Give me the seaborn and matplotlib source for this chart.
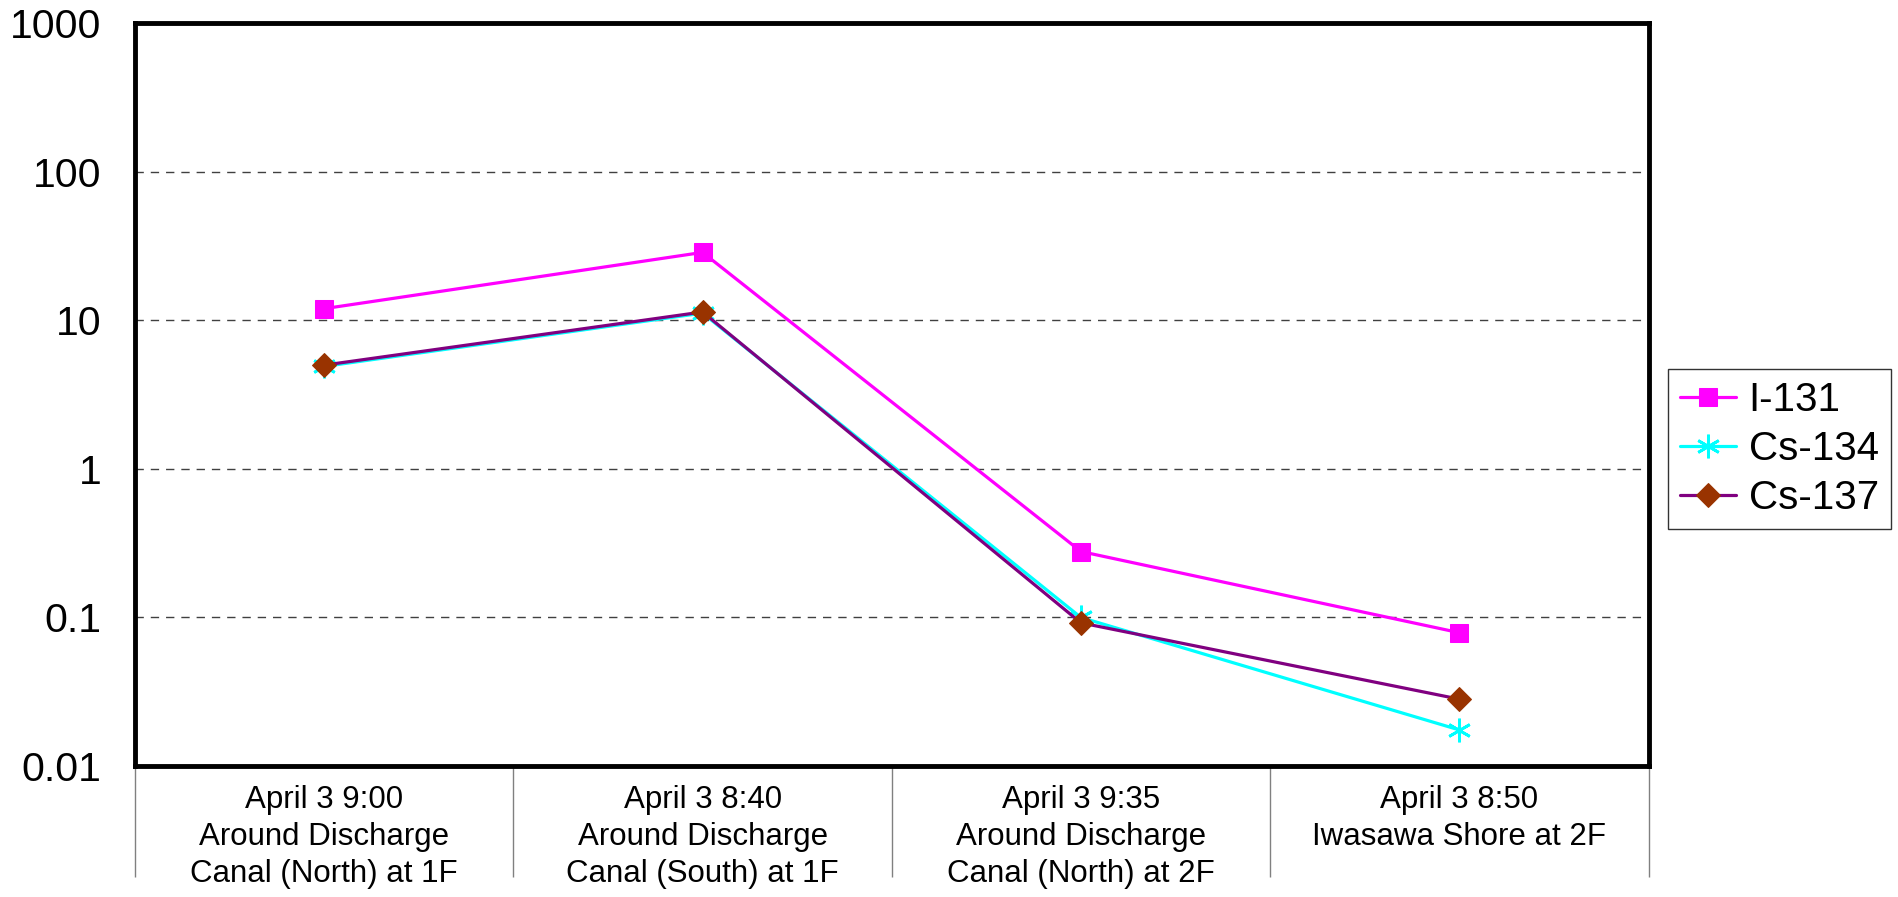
import numpy as np
import pandas as pd
import matplotlib
matplotlib.use('Agg')
import matplotlib.pyplot as plt
import seaborn as sns
from matplotlib.ticker import FixedLocator, NullFormatter, NullLocator

# data (log scale)
locations = [
    'April 3 9:00\nAround Discharge\nCanal (North) at 1F',
    'April 3 8:40\nAround Discharge\nCanal (South) at 1F',
    'April 3 9:35\nAround Discharge\nCanal (North) at 2F',
    'April 3 8:50\nIwasawa Shore at 2F',
]
i131 = [12.0, 28.7, 0.278, 0.079]
cs134 = [4.9, 11.2, 0.100, 0.0175]
cs137 = [5.0, 11.4, 0.092, 0.0282]
y_ticks = [0.01, 0.1, 1, 10, 100, 1000]
y_tick_labels = ['0.01', '0.1', '1', '10', '100', '1000']

sns.set_style('white')
plt.rcParams['font.family'] = ['Liberation Sans', 'DejaVu Sans']
plt.rcParams['text.color'] = 'black'
plt.rcParams['xtick.color'] = 'black'
plt.rcParams['ytick.color'] = 'black'

fig = plt.figure(figsize=(18.99, 8.97), dpi=100)
ax = fig.add_axes([0.0711, 0.146, 0.797, 0.828])

pos = np.arange(len(locations))
series = [
    ('I-131', i131, dict(color='#FF00FF', marker='s', markersize=13,
                         markerfacecolor='#FF00FF', markeredgecolor='#FF00FF')),
    ('Cs-134', cs134, dict(color='#00FFFF', marker=(6, 2, 0), markersize=17,
                           markeredgecolor='#00FFFF', markeredgewidth=2)),
    ('Cs-137', cs137, dict(color='#800080', marker='D', markersize=12.5,
                           markerfacecolor='#993300', markeredgecolor='#993300')),
]
for name, vals, style in series:
    df = pd.DataFrame({'pos': pos, 'value': vals})
    sns.lineplot(data=df, x='pos', y='value', ax=ax, label=name,
                 linewidth=2.3, **style)

ax.set_yscale('log')
ax.set_ylim(0.01, 1000)
ax.set_xlim(-0.5, len(locations) - 0.5)

ax.yaxis.set_major_locator(FixedLocator(y_ticks))
ax.set_yticklabels(y_tick_labels)
ax.yaxis.set_minor_locator(NullLocator())
ax.tick_params(axis='y', which='major', length=0, pad=24, labelsize=29.5,
               labelcolor='black')

ax.set_xticks(pos)
ax.set_xticklabels(locations, fontsize=22.5, linespacing=1.3, color='black')
ax.set_xticks(np.arange(-0.5, len(locations)), minor=True)
ax.xaxis.set_minor_formatter(NullFormatter())
ax.tick_params(axis='x', which='major', length=0, pad=14)
ax.tick_params(axis='x', which='minor', length=80, width=1, color='#808080',
               direction='out', bottom=True)

ax.set_xlabel('')
ax.set_ylabel('')
ax.grid(False)
ax.yaxis.grid(True, which='major', linestyle=(0, (6, 5)), color='#404040',
              linewidth=1)

for sp in ax.spines.values():
    sp.set_visible(True)
    sp.set_color('black')
    sp.set_linewidth(3.5)

leg = ax.legend(loc='center left', bbox_to_anchor=(1668 / 1899, 1 - 449 / 897),
                bbox_transform=fig.transFigure, fontsize=29, frameon=True,
                fancybox=False, edgecolor='black', handlelength=1.4,
                handletextpad=0.3, labelspacing=0.27, borderpad=0.3,
                borderaxespad=0)
leg.get_frame().set_linewidth(1)
for t in leg.get_texts():
    t.set_color('black')

fig.savefig('out.png', dpi=100)
